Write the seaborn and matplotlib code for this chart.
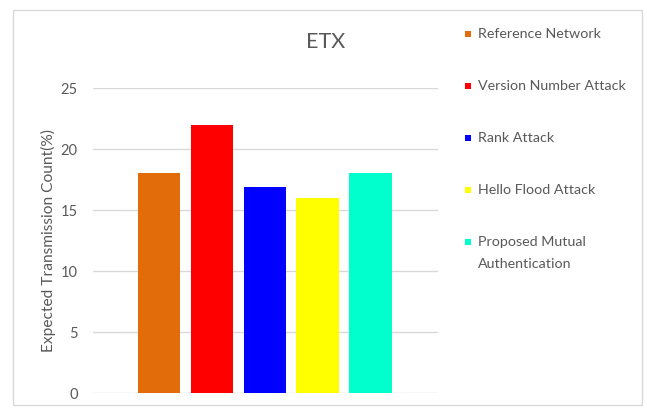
import matplotlib
matplotlib.use("Agg")
import matplotlib.pyplot as plt
import seaborn as sns
import pandas as pd
from matplotlib.patches import Rectangle

categories = ["Reference Network", "Version Number Attack", "Rank Attack",
              "Hello Flood Attack", "Proposed Mutual\nAuthentication"]
values = [18, 22, 16.9, 16, 18]
colors = ["#E36C0A", "#FF0000", "#0000FF", "#FFFF00", "#00FFCC"]
yticks = [0, 5, 10, 15, 20, 25]
title = "ETX"
ylabel = "Expected Transmission Count(%)"

sns.set_theme(style="white")
plt.rcParams["font.family"] = ["Lato", "DejaVu Sans"]
txt = "#595959"

W, H = 647, 415
fig = plt.figure(figsize=(W / 100, H / 100), dpi=100)
ax = fig.add_axes([93 / W, (H - 393.3) / H, (438 - 93) / W, (393.3 - 88) / H])

df = pd.DataFrame({"cat": categories, "val": values})
sns.barplot(data=df, x="cat", y="val", hue="cat", palette=colors, legend=False,
            width=0.8, ax=ax, saturation=1, edgecolor="none")

ax.set_xlim(-1.25, 5.28)
ax.set_ylim(0, 25)
ax.set_yticks(yticks)
ax.set_yticklabels([str(t) for t in yticks], color=txt, fontsize=10.5)
ax.set_xticks([])
ax.set_xlabel("")
ax.set_ylabel(ylabel, color=txt, fontsize=11.2, labelpad=3.5)
ax.tick_params(axis="y", length=0, pad=11)
for s in ax.spines.values():
    s.set_visible(False)
ax.grid(axis="y", color="#D9D9D9", linewidth=1)
ax.set_axisbelow(True)

fig.text(326 / W, 1 - 42 / H, title, ha="center", va="center", fontsize=15.5, color=txt)

# legend
for i, (c, col) in enumerate(zip(categories, colors)):
    yc = 34 + 52 * i
    fig.patches.append(Rectangle((465 / W, 1 - (yc + 3) / H), 6 / W, 6 / H,
                                 transform=fig.transFigure, facecolor=col,
                                 edgecolor="none"))
    for j, line in enumerate(c.split("\n")):
        fig.text(478 / W, 1 - (yc + 22 * j) / H, line, ha="left", va="center",
                 fontsize=10.3, color=txt)

# border
fig.patches.append(Rectangle((13 / W, 1 - 405 / H), (642 - 13) / W, (405 - 10) / H,
                             transform=fig.transFigure, facecolor="none",
                             edgecolor="#D9D9D9", linewidth=1))

fig.savefig("out.png", dpi=100)
